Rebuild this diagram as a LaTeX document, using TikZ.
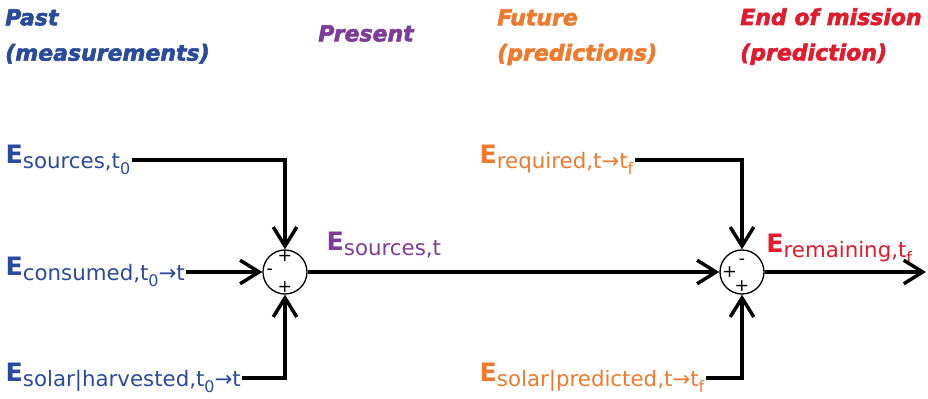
\documentclass[tikz,border=0pt]{standalone}
\usepackage{fontspec}
\setmainfont{DejaVu Sans}
\newfontfamily\headfont{DejaVu Sans}[BoldItalicFeatures={FakeBold=2.5}]
\usetikzlibrary{arrows.meta,positioning}
\definecolor{pastblue}{HTML}{2A4B9B}
\definecolor{nowpurple}{HTML}{7D3C98}
\definecolor{futorange}{HTML}{EE7A2E}
\definecolor{endred}{HTML}{E01B2C}
\newcommand{\En}[1]{{\fontsize{19}{20}\selectfont\bfseries E}\raisebox{-4pt}{\fontsize{16}{17}\selectfont #1}}
\newcommand{\tsub}[1]{t\raisebox{-4.5pt}{\fontsize{12}{13}\selectfont #1}}
\tikzset{
  >={Straight Barb[length=5mm,width=6.2mm]},
  flow/.style={line width=2.6pt},
  head/.style={
    align=left, inner sep=0pt, anchor=north west,
    font=\headfont\fontsize{16.5}{26.5}\selectfont\bfseries\itshape
  },
  qty/.style={anchor=west, inner sep=1pt},
  sumnode/.style={draw, circle, line width=1pt, minimum size=33pt, inner sep=0pt},
  sign/.style={font=\fontsize{13}{13}\selectfont, inner sep=0pt},
}
\begin{document}
\begin{tikzpicture}[x=0.75pt, y=-0.75pt]
  \useasboundingbox (0,0) rectangle (928,399);
  % time headings
  \node[head, text=pastblue] (hpast) at (5,9) {Past\\(measurements)};
  \node[head, text=nowpurple] (hnow) at (318,25) {Present};
  \node[head, text=futorange] (hfut) at (497,9) {Future\\(predictions)};
  \node[head, text=endred] (hend) at (740,8) {End of mission\\(prediction)};
  % summing junctions
  \node[sumnode] (s1) at (285,272) {};
  \node[sumnode] (s2) at (742,272) {};
  \node[sign, below=1pt of s1.north] (s1t) {+};
  \node[sign, right=3pt of s1.west] (s1l) {-};
  \node[sign, above=1.5pt of s1.south] (s1b) {+};
  \node[sign, below=7pt of s2.north] (s2t) {-};
  \node[sign, right=2pt of s2.west] (s2l) {+};
  \node[sign, above=2.5pt of s2.south] (s2b) {+};
  % energies
  \node[qty, text=pastblue] (esrc) at (4,160) {\En{sources,\tsub{0}}};
  \node[qty, text=pastblue] (econ) at (4,272) {\En{consumed,\tsub{0}→t}};
  \node[qty, text=pastblue] (esol) at (4,378) {\En{solar|harvested,\tsub{0}→t}};
  \node[qty, text=futorange] (ereq) at (478,160) {\En{required,t→\tsub{f}}};
  \node[qty, text=futorange] (epred) at (478,378) {\En{solar|predicted,t→\tsub{f}}};
  \node[qty, anchor=base west, text=nowpurple] (enow) at ([xshift=13pt,yshift=16.5pt]s1.east) {\En{sources,t}};
  \node[qty, anchor=base west, text=endred] (erem) at ([yshift=15pt]s2.east) {\En{remaining,\tsub{f}}};
  \coordinate (out) at (926,272);
  \draw[flow,->] (esrc) -| (s1);
  \draw[flow,->] (econ) -- (s1);
  \draw[flow,->] (esol) -| (s1);
  \draw[flow,->] (s1) -- (s2);
  \draw[flow,->] (ereq) -| (s2);
  \draw[flow,->] (epred) -| (s2);
  \draw[flow,->] (s2) -- (out);
\end{tikzpicture}
\end{document}
